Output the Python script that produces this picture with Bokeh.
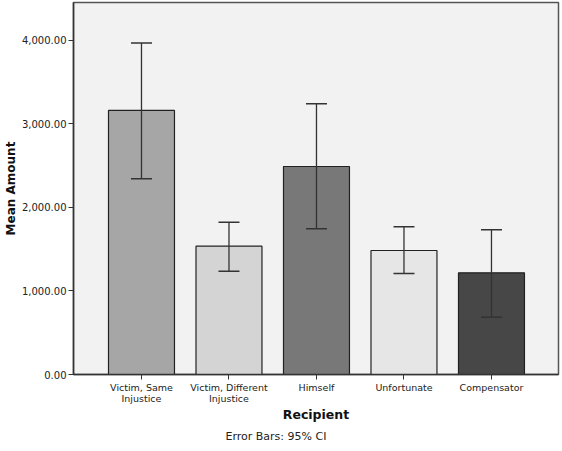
from bokeh.plotting import figure
from bokeh.models import (ColumnDataSource, Whisker, TeeHead, FixedTicker,
                          NumeralTickFormatter, Range1d, Title)
from bokeh.embed import file_html
from bokeh.resources import INLINE

# ---- data ----
categories = ["Victim, Same\nInjustice", "Victim, Different\nInjustice",
              "Himself", "Unfortunate", "Compensator"]
means = [3162, 1537, 2491, 1485, 1218]
ci_low = [2343, 1237, 1745, 1210, 686]
ci_high = [3971, 1824, 3242, 1769, 1733]
bar_colors = ["#a6a6a6", "#d4d4d4", "#787878", "#e6e6e6", "#474747"]
y_ticks = [0, 1000, 2000, 3000, 4000]

xs = list(range(len(categories)))
src = ColumnDataSource(dict(x=xs, mean=means, lo=ci_low, hi=ci_high,
                            color=bar_colors))

FONT = "DejaVu Sans"

p = figure(frame_width=485, frame_height=372, output_backend="svg",
           toolbar_location=None,
           x_range=Range1d(-0.777, 4.766), y_range=Range1d(0, 4455),
           min_border_left=0, min_border_right=2, min_border_top=2,
           min_border_bottom=0)

p.background_fill_color = "#f2f2f2"
p.border_fill_color = "white"
p.outline_line_color = "#555555"
p.outline_line_width = 1.5
p.grid.visible = False

p.vbar(x="x", top="mean", bottom=0, width=0.754, source=src,
       fill_color="color", line_color="#222222", line_width=1.2)

w = Whisker(base="x", upper="hi", lower="lo", source=src, level="overlay",
            line_color="#333333", line_width=1.3,
            upper_head=TeeHead(size=21, line_color="#333333", line_width=1.5),
            lower_head=TeeHead(size=21, line_color="#333333", line_width=1.5))
p.add_layout(w)

# y axis
p.yaxis.ticker = FixedTicker(ticks=y_ticks)
p.yaxis.formatter = NumeralTickFormatter(format="0,0.00")
p.yaxis.minor_tick_line_color = None
p.yaxis.major_tick_out = 5
p.yaxis.major_tick_in = 0
p.yaxis.major_label_standoff = 2
p.yaxis.major_label_text_font = FONT
p.yaxis.major_label_text_font_size = "10px"
p.yaxis.major_label_text_color = "#222222"
p.yaxis.axis_label = "Mean Amount"
p.yaxis.axis_label_text_font = FONT
p.yaxis.axis_label_text_font_style = "bold"
p.yaxis.axis_label_text_font_size = "12px"
p.yaxis.axis_label_text_color = "#111111"
p.yaxis.axis_label_standoff = 1
p.yaxis.axis_line_color = "#333333"
p.yaxis.axis_line_width = 1.5
p.yaxis.major_tick_line_color = "#333333"

# x axis
p.xaxis.ticker = FixedTicker(ticks=xs)
p.xaxis.major_label_overrides = {i: c for i, c in zip(xs, categories)}
p.xaxis.minor_tick_line_color = None
p.xaxis.major_tick_out = 5
p.xaxis.major_tick_in = 0
p.xaxis.major_label_standoff = 2
p.xaxis.major_label_text_font = FONT
p.xaxis.major_label_text_font_size = "9.5px"
p.xaxis.major_label_text_color = "#222222"
p.xaxis.major_label_text_line_height = 1.0
p.xaxis.axis_label = "Recipient"
p.xaxis.axis_label_text_font = FONT
p.xaxis.axis_label_text_font_style = "bold"
p.xaxis.axis_label_text_font_size = "12.5px"
p.xaxis.axis_label_text_color = "#111111"
p.xaxis.axis_label_standoff = 0
p.xaxis.axis_line_color = "#333333"
p.xaxis.axis_line_width = 1.5
p.xaxis.major_tick_line_color = "#333333"

note = Title(text="Error Bars: 95% CI", align="left", offset=152,
             text_font=FONT, text_font_size="11px", text_font_style="normal",
             text_color="#222222", standoff=7)
p.add_layout(note, "below")

open("out.html", "w").write(file_html(p, INLINE))
